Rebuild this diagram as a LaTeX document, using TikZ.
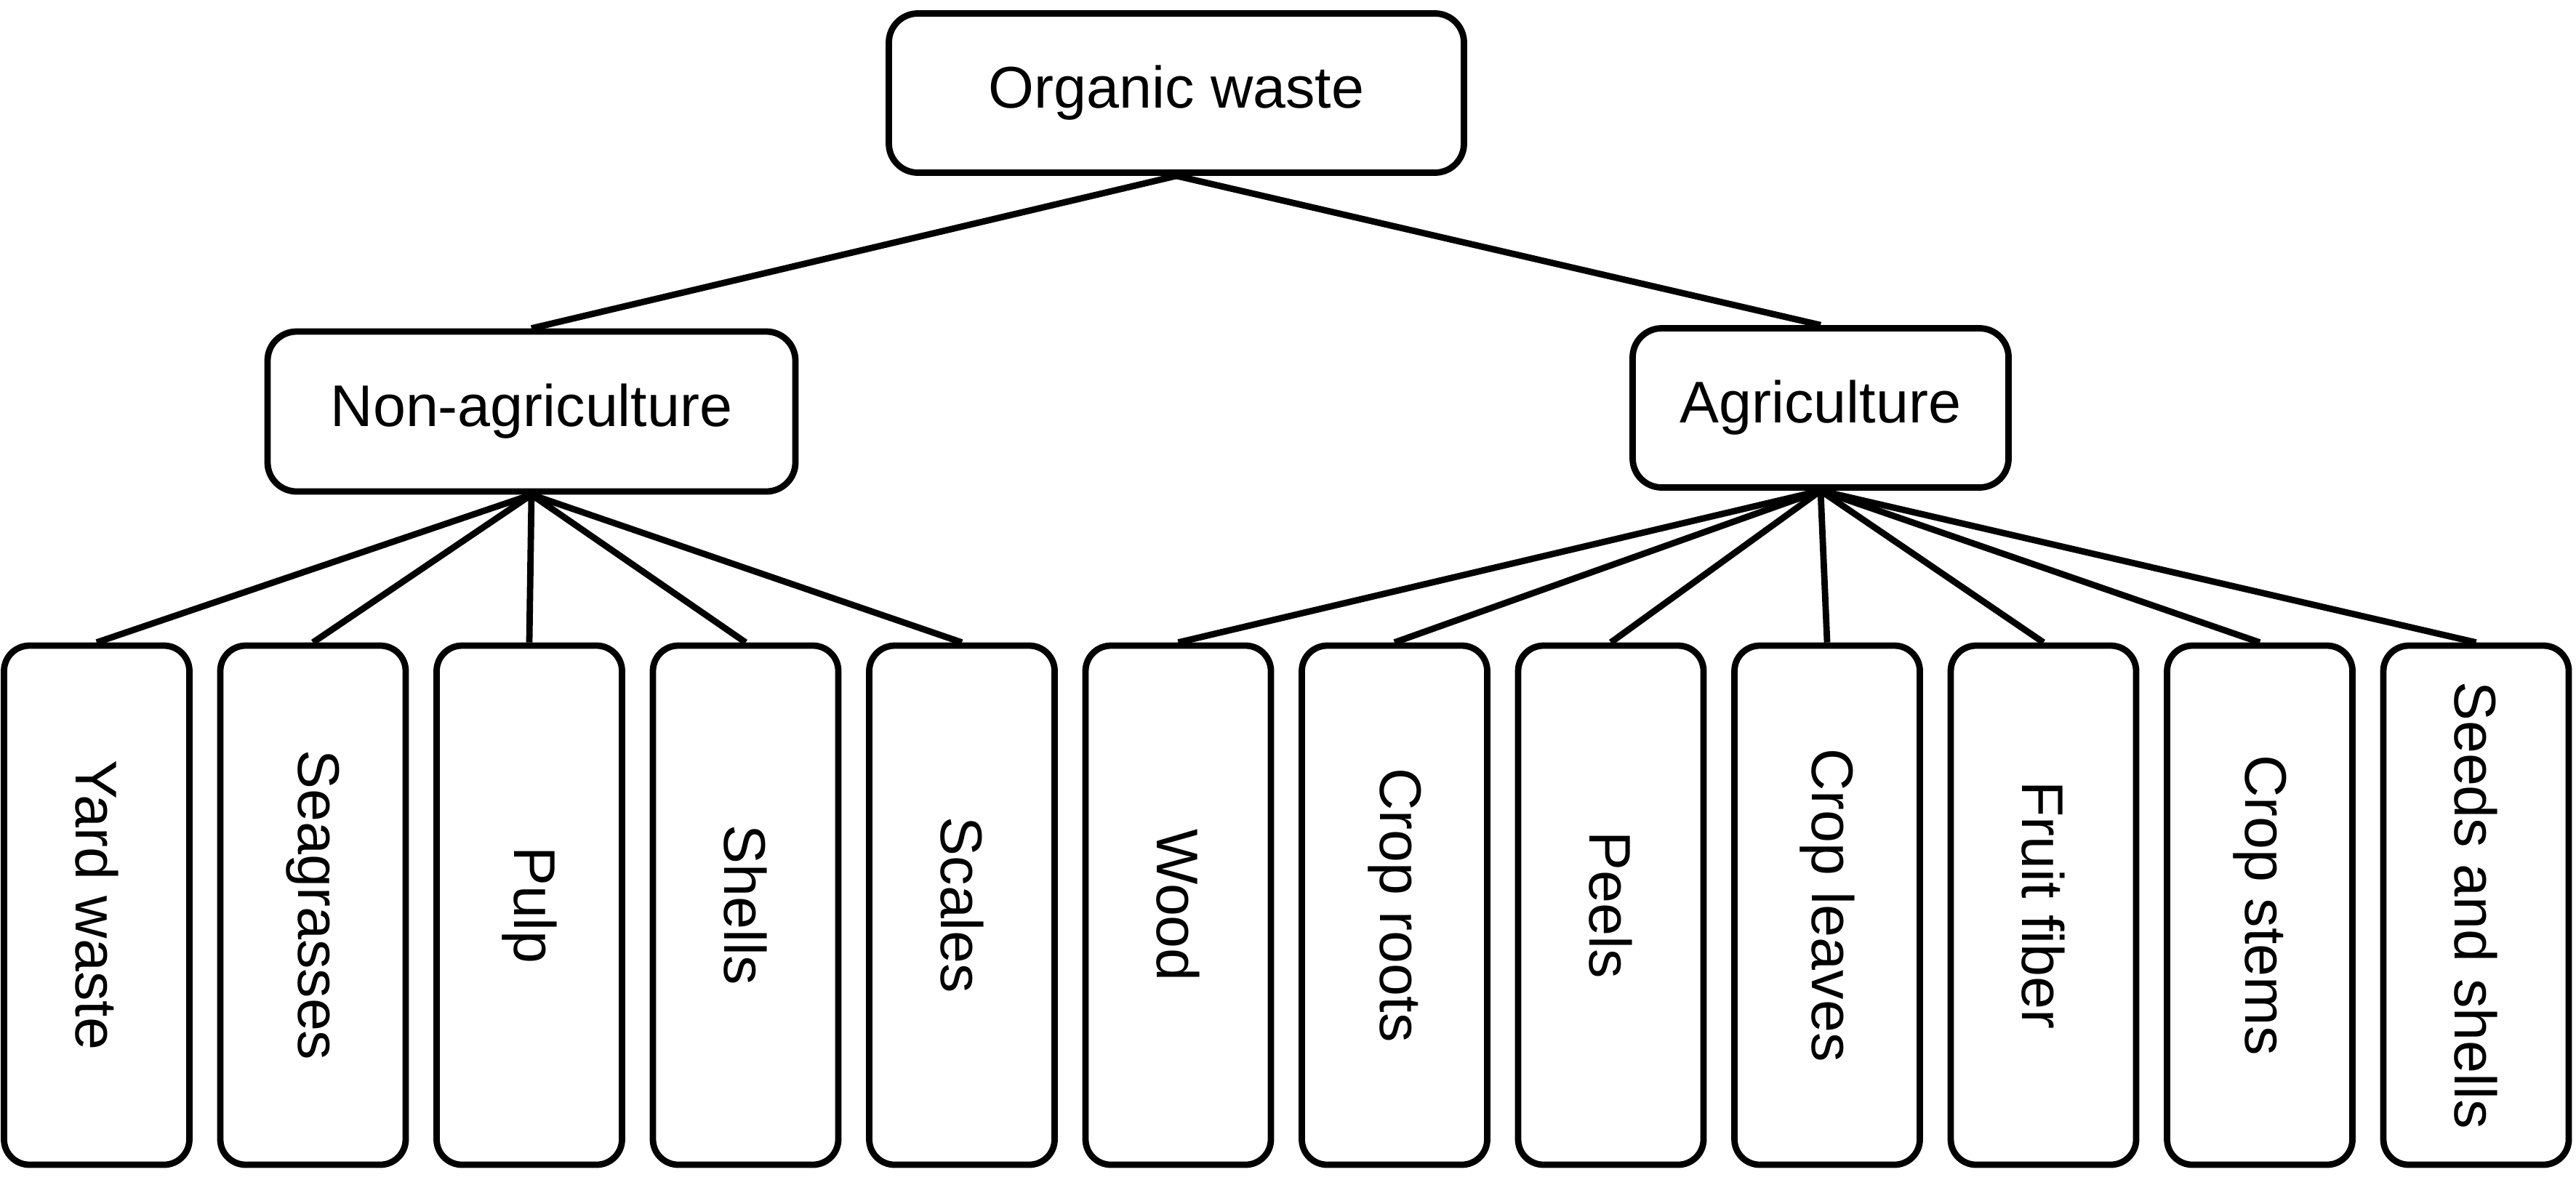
\documentclass[tikz,border=0pt]{standalone}
\usepackage{fontspec}
\setmainfont{Liberation Sans}
\tikzset{
	wastebox/.style={draw, line width=2.5pt, rounded corners=0.4cm, inner sep=0pt, font=\fontsize{23}{28}\selectfont},
	leafbox/.style={wastebox, rounded corners=0.35cm, minimum width=2.55cm, minimum height=7.14cm},
	branch/.style={line width=2.5pt}
}
\newcommand{\vtext}[1]{\rotatebox{-90}{#1}}

\begin{document}
\begin{tikzpicture}
		\useasboundingbox (0,0) rectangle (35.43,-16.22);
		\node[wastebox, minimum width=7.91cm, minimum height=2.19cm] (organic) at (16.18,-1.28) {Organic waste};
		\node[wastebox, minimum width=7.26cm, minimum height=2.20cm] (nonagri) at (7.31,-5.66) {Non-agriculture};
		\node[wastebox, minimum width=5.17cm, minimum height=2.19cm] (agri) at (25.04,-5.61) {Agriculture};
		\draw[branch] (organic.south) -- (nonagri.north);
		\draw[branch] (organic.south) -- (agri.north);

		% non-agriculture leaves
		\node[leafbox] (yard) at (1.33,-12.45) {\vtext{Yard waste}};
		\node[leafbox] (seagrass) at (4.305,-12.45) {\vtext{Seagrasses}};
		\node[leafbox] (pulp) at (7.28,-12.45) {\vtext{Pulp}};
		\node[leafbox] (shells) at (10.255,-12.45) {\vtext{Shells}};
		\node[leafbox] (scales) at (13.23,-12.45) {\vtext{Scales}};
		\draw[branch] (nonagri.south) -- (yard.north);
		\draw[branch] (nonagri.south) -- (seagrass.north);
		\draw[branch] (nonagri.south) -- (pulp.north);
		\draw[branch] (nonagri.south) -- (shells.north);
		\draw[branch] (nonagri.south) -- (scales.north);

		% agriculture leaves
		\node[leafbox] (wood) at (16.205,-12.45) {\vtext{Wood}};
		\node[leafbox] (roots) at (19.18,-12.45) {\vtext{Crop roots}};
		\node[leafbox] (peels) at (22.155,-12.45) {\vtext{Peels}};
		\node[leafbox] (leaves) at (25.13,-12.45) {\vtext{Crop leaves}};
		\node[leafbox] (fiber) at (28.105,-12.45) {\vtext{Fruit fiber}};
		\node[leafbox] (stems) at (31.08,-12.45) {\vtext{Crop stems}};
		\node[leafbox] (seeds) at (34.055,-12.45) {\vtext{Seeds and shells}};
		\draw[branch] (agri.south) -- (wood.north);
		\draw[branch] (agri.south) -- (roots.north);
		\draw[branch] (agri.south) -- (peels.north);
		\draw[branch] (agri.south) -- (leaves.north);
		\draw[branch] (agri.south) -- (fiber.north);
		\draw[branch] (agri.south) -- (stems.north);
		\draw[branch] (agri.south) -- (seeds.north);
	\end{tikzpicture}
\end{document}
